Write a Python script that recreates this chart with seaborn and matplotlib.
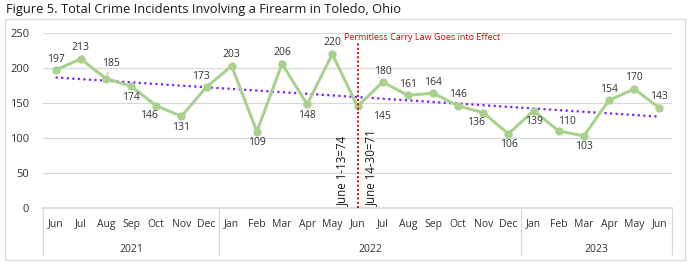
import matplotlib
matplotlib.use('Agg')
import matplotlib.pyplot as plt
import matplotlib.patches as mpatches
import numpy as np
import pandas as pd
import seaborn as sns

# data
months = ['Jun', 'Jul', 'Aug', 'Sep', 'Oct', 'Nov', 'Dec',
          'Jan', 'Feb', 'Mar', 'Apr', 'May', 'Jun', 'Jul', 'Aug', 'Sep', 'Oct', 'Nov', 'Dec',
          'Jan', 'Feb', 'Mar', 'Apr', 'May', 'Jun']
years = ['2021', '2022', '2023']
year_counts = [7, 12, 6]
incidents = [197, 213, 185, 174, 146, 131, 173,
             203, 109, 206, 148, 220, 145, 180, 161, 164, 146, 136, 106,
             139, 110, 103, 154, 170, 143]
law_month = 12
law_text = 'Permitless Carry Law Goes into Effect'
split_left = 'June 1-13=74'
split_right = 'June 14-30=71'
title = 'Figure 5. Total Crime Incidents Involving a Firearm in Toledo, Ohio'

# label placement codes (style only)
place = ['a', 'a', 'lead', 'b', 'bl', 'b', 'al',
         'a', 'b', 'a', 'b', 'a', 'lead2', 'a', 'a', 'a', 'a', 'bl', 'b',
         'b', 'ar', 'b', 'a', 'a', 'a']
offsets = {'a': (0, 11), 'b': (0, -11), 'al': (-6, 10), 'bl': (-7, -10),
           'ar': (8, 9), 'lead': (5, 15), 'lead2': (24, -10)}

sns.set_theme(style='white')
plt.rcParams['font.family'] = ['Open Sans', 'DejaVu Sans']

df = pd.DataFrame({'idx': np.arange(len(incidents)), 'count': incidents})

fig = plt.figure(figsize=(6.9, 2.67), dpi=100)
ax = fig.add_axes([43 / 690, 1 - 208 / 267, (672 - 43) / 690, 175 / 267])

green = '#A9D18E'
sns.regplot(x='idx', y='count', data=df, scatter=False, ci=None, ax=ax,
            line_kws=dict(color='#7F1FFF', ls=(0, (1, 1.5)), lw=1.6, zorder=2))
sns.lineplot(x='idx', y='count', data=df, ax=ax, color=green, lw=2.2,
             marker='o', markersize=6, markeredgewidth=0, zorder=3)

for i, v in enumerate(incidents):
    dx, dy = offsets[place[i]]
    if place[i].startswith('lead'):
        ax.annotate(str(v), xy=(i, v), xytext=(dx, dy), textcoords='offset pixels',
                    ha='center', va='center', fontsize=7.5, color='#333333',
                    arrowprops=dict(arrowstyle='-', color='#A6A6A6', lw=0.7,
                                    shrinkA=6, shrinkB=3))
    else:
        ax.annotate(str(v), xy=(i, v), xytext=(dx, dy), textcoords='offset pixels',
                    ha='center', va='center', fontsize=7.5, color='#333333')

ax.set_xlim(-0.5, len(incidents) - 0.5)
ax.set_ylim(0, 250)
ax.set_yticks([0, 50, 100, 150, 200, 250])
ax.tick_params(axis='y', length=0, pad=10, labelsize=8, labelcolor='#333333')
ax.yaxis.grid(True, color='#D9D9D9', lw=0.9)
ax.set_xticks([])
ax.set_xlabel('')
ax.set_ylabel('')
for s in ['top', 'right', 'left']:
    ax.spines[s].set_visible(False)
ax.spines['bottom'].set_color('#D9D9D9')

# law line and notes
ax.axvline(law_month, ymin=0, ymax=0.95, color='#E00000', ls=(0, (1, 1.2)), lw=1.4, zorder=4)
ax.text(law_month - 0.55, 0.975, law_text, transform=ax.get_xaxis_transform(),
        ha='left', va='center', fontsize=6.5, color='#E00000')
ax.text(law_month - 0.6, 3, split_left, rotation=90, ha='center', va='bottom',
        fontsize=8.3, color='#1a1a1a')
ax.text(law_month + 0.55, 3, split_right, rotation=90, ha='center', va='bottom',
        fontsize=8.3, color='#1a1a1a')

# two-level category axis
trans = ax.get_xaxis_transform()
for i, m in enumerate(months):
    ax.text(i, -0.092, m, transform=trans, ha='center', va='center',
            fontsize=7.5, color='#333333')
start = 0
bounds = [-0.5]
for y, n in zip(years, year_counts):
    ax.text(start + (n - 1) / 2, -0.235, y, transform=trans, ha='center', va='center',
            fontsize=7.5, color='#333333')
    start += n
    bounds.append(start - 0.5)
for b in bounds:
    ax.plot([b, b], [0, -0.27], transform=trans, color='#D9D9D9', lw=0.9, clip_on=False)

fig.add_artist(mpatches.Rectangle((5 / 690, 1 - 260 / 267), 680 / 690, 241 / 267,
                                  transform=fig.transFigure, fill=False,
                                  edgecolor='#D9D9D9', lw=0.9))
fig.text(6 / 690, 1 - 10 / 267, title, ha='left', va='center', fontsize=9.3, color='#1a1a1a')

fig.savefig('out.png', dpi=100)
